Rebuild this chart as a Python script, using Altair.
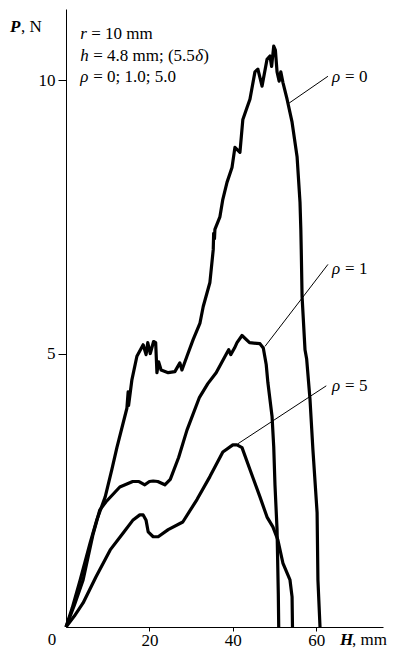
import altair as alt
import pandas as pd

# ---- data (H in mm, P in N) ----
rho0_x = [0, 1.5, 3.4, 5.8, 7.4, 9.4, 11.0, 12.2, 14.6, 14.9, 15.0, 15.8, 17.0, 18.5, 19.2, 19.6, 20.2,
          21.0, 21.5, 21.8, 22.2, 22.8, 24.5, 26.1, 27.3, 27.8, 29.0, 30.5, 32.1, 32.9, 34.5, 35.3,
          35.4, 35.6, 35.7, 36.9, 37.6, 38.6, 39.8, 40.5, 41.7, 42.4, 43.4, 44.1, 45.3, 46.0, 47.0,
          48.2, 48.9, 49.3, 49.8, 50.2, 50.6, 51.1, 51.5, 52.0, 53.0, 54.2, 55.4, 56.1, 56.3, 56.4,
          56.6, 57.3, 57.7, 58.5, 59.2, 60.2, 60.4, 60.9]
rho0_y = [0, 0.35, 0.86, 1.54, 1.96, 2.38, 2.88, 3.28, 4.0, 4.3, 4.05, 4.52, 4.95, 5.16, 4.98, 5.2, 5.0,
          5.22, 5.2, 4.65, 4.85, 4.7, 4.65, 4.67, 4.83, 4.7, 4.95, 5.26, 5.55, 5.86, 6.3, 6.9,
          7.2, 7.1, 7.27, 7.5, 7.82, 8.13, 8.4, 8.77, 8.68, 9.28, 9.5, 9.65, 10.15, 10.2, 9.89,
          10.38, 10.44, 10.25, 10.62, 10.55, 10.15, 9.98, 10.15, 9.96, 9.65, 9.23, 8.6, 7.77, 7.27, 6.9,
          6.04, 5.07, 4.9, 4.16, 3.24, 2.09, 0.86, 0]

rho1_x = [0, 2.0, 4.1, 6.5, 8.1, 9.6, 12.9, 16.0, 17.5, 18.9, 20.0, 20.9, 22.0, 23.7, 25.0, 27.0, 29.0,
          32.0, 34.0, 36.0, 38.5, 39.0, 39.5, 40.4, 41.0, 42.2, 44.0, 46.5, 47.3, 48.0, 48.4, 49.4,
          49.8, 50.1, 50.6, 50.9, 51.0]
rho1_y = [0, 0.4, 0.86, 1.7, 2.14, 2.29, 2.56, 2.66, 2.66, 2.6, 2.66, 2.67, 2.66, 2.6, 2.7, 3.1, 3.6,
          4.2, 4.45, 4.65, 5.0, 5.07, 4.98, 5.1, 5.2, 5.33, 5.2, 5.18, 5.1, 4.8, 4.47, 3.85,
          3.3, 2.6, 1.78, 0.6, 0]

rho5_x = [0, 2.0, 4.1, 7.2, 10.6, 13.7, 16.0, 17.7, 18.5, 19.2, 19.7, 20.9, 22.1, 24.5, 28.0, 31.4,
          34.5, 37.6, 40.0, 41.0, 42.2, 44.1, 46.5, 48.2, 49.6, 50.8, 52.0, 53.7, 54.2, 54.3]
rho5_y = [0, 0.2, 0.44, 0.92, 1.41, 1.72, 1.95, 2.05, 2.05, 1.95, 1.74, 1.65, 1.65, 1.78, 1.92, 2.33,
          2.75, 3.2, 3.33, 3.33, 3.28, 2.88, 2.38, 2.01, 1.83, 1.59, 1.17, 0.86, 0.55, 0]

curve_names = ["0", "1", "5"]
label_x = [63.8, 63.8, 63.8]
label_y = [10.05, 6.54, 4.40]
leader_x1 = [62.8, 62.8, 62.4]
leader_y1 = [10.07, 6.63, 4.41]
leader_x2 = [53.5, 47.7, 41.2]
leader_y2 = [9.58, 5.13, 3.35]

x_ticks = [20, 40, 60]
y_ticks = [5, 10]

FONT = "Liberation Serif"
FS = 17

rows = []
for name, xs_, ys_ in [("0", rho0_x, rho0_y), ("1", rho1_x, rho1_y), ("5", rho5_x, rho5_y)]:
    for i, (a, b) in enumerate(zip(xs_, ys_)):
        rows.append({"curve": name, "i": i, "H": a, "P": b})
curves = pd.DataFrame(rows)

xs = alt.Scale(domain=[0, 76], nice=False)
ys = alt.Scale(domain=[0, 11.3], nice=False)

axis_common = dict(title=None, grid=False, ticks=True, tickWidth=1, domainWidth=1,
                   domainColor="black", tickColor="black", labelColor="black",
                   labelFont=FONT, labelFontSize=FS, format="d")

lines = alt.Chart(curves).mark_line(color="black", strokeWidth=3.2, strokeJoin="round").encode(
    x=alt.X("H:Q", scale=xs, axis=alt.Axis(values=x_ticks, tickSize=4, labelPadding=1, **axis_common)),
    y=alt.Y("P:Q", scale=ys, axis=alt.Axis(values=y_ticks, tickSize=8, labelPadding=3, **axis_common)),
    detail="curve:N",
    order="i:Q",
)

leaders_df = pd.DataFrame({"x1": leader_x1, "y1": leader_y1, "x2": leader_x2, "y2": leader_y2})
leaders = alt.Chart(leaders_df).mark_rule(color="black", strokeWidth=1).encode(
    x=alt.X("x1:Q", scale=xs), y=alt.Y("y1:Q", scale=ys), x2="x2:Q", y2="y2:Q")

labels_df = pd.DataFrame({"x": label_x, "y": label_y, "t": ["= " + c for c in curve_names], "g": ["ρ"] * 3})
lab_rho = alt.Chart(labels_df).mark_text(font=FONT, fontSize=FS, fontStyle="italic", align="left",
                                         baseline="middle", color="black").encode(
    x=alt.X("x:Q", scale=xs), y=alt.Y("y:Q", scale=ys), text="g:N")
lab_rest = alt.Chart(labels_df).mark_text(font=FONT, fontSize=FS, align="left", baseline="middle",
                                          color="black", dx=13).encode(
    x=alt.X("x:Q", scale=xs), y=alt.Y("y:Q", scale=ys), text="t:N")

# annotation block (segments: text, style, dx, line y)
info_x = 3.4
info_rows = [
    {"t": "r", "it": True, "dx": 0, "y": 10.84},
    {"t": "= 10 mm", "it": False, "dx": 11, "y": 10.84},
    {"t": "h", "it": True, "dx": 0, "y": 10.44},
    {"t": "= 4.8 mm; (5.5", "it": False, "dx": 13, "y": 10.44},
    {"t": "δ", "it": True, "dx": 115, "y": 10.44},
    {"t": ")", "it": False, "dx": 123, "y": 10.44},
    {"t": "ρ", "it": True, "dx": 0, "y": 10.05},
    {"t": "= 0; 1.0; 5.0", "it": False, "dx": 13, "y": 10.05},
]
info_layers = []
for r in info_rows:
    df = pd.DataFrame({"x": [info_x], "y": [r["y"]], "t": [r["t"]]})
    kw = dict(font=FONT, fontSize=FS, align="left", baseline="middle", color="black", dx=r["dx"])
    if r["it"]:
        kw["fontStyle"] = "italic"
    info_layers.append(alt.Chart(df).mark_text(**kw).encode(
        x=alt.X("x:Q", scale=xs), y=alt.Y("y:Q", scale=ys), text="t:N"))

# axis titles and origin label
origin = alt.Chart(pd.DataFrame({"x": [0], "y": [0], "t": ["0"]})).mark_text(
    font=FONT, fontSize=FS, align="center", baseline="middle", color="black", dx=-14, dy=13).encode(
    x=alt.X("x:Q", scale=xs), y=alt.Y("y:Q", scale=ys), text="t:N")

def title_seg(txt, px, py, bold_it):
    kw = dict(font=FONT, fontSize=FS, align="left", baseline="middle", color="black")
    if bold_it:
        kw["fontStyle"] = "italic"
        kw["fontWeight"] = "bold"
    return alt.Chart(pd.DataFrame({"t": [txt]})).mark_text(**kw).encode(
        x=alt.value(px), y=alt.value(py), text="t:N")

titles = [
    title_seg("P", -56, 18, True),
    title_seg(", N", -45, 18, False),
    title_seg("H", 274, 631, True),
    title_seg(", mm", 286, 631, False),
]

chart = alt.layer(lines, leaders, lab_rho, lab_rest, origin, *info_layers, *titles).properties(
    width=317, height=618,
    autosize=alt.AutoSizeParams(type="none"),
    padding={"left": 58, "top": 1, "right": 12, "bottom": 22},
).configure_view(stroke=None)

chart.save("out.html", embed_options={"renderer": "svg", "actions": False})
